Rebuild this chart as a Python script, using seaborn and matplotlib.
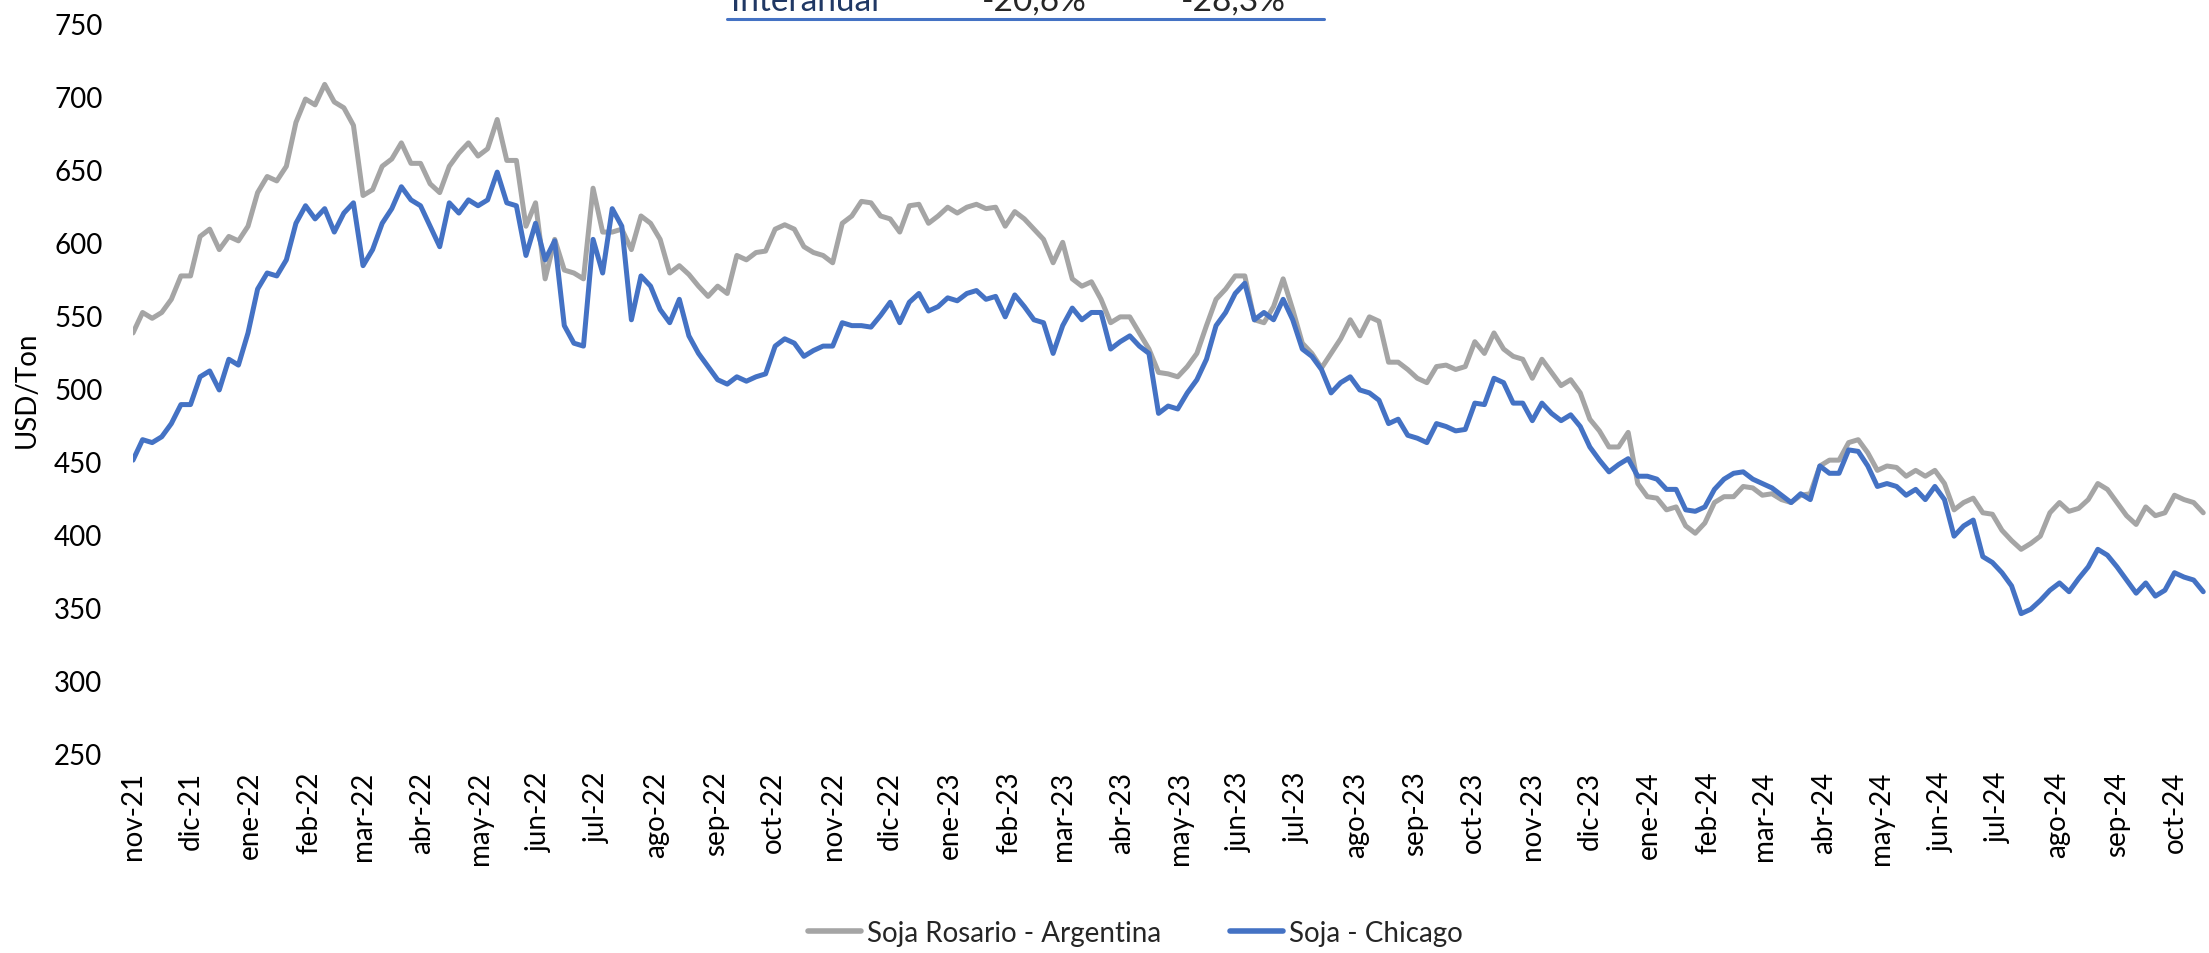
import matplotlib
matplotlib.use("Agg")
import matplotlib.pyplot as plt
import matplotlib.dates as mdates
from matplotlib.ticker import FuncFormatter, MultipleLocator
from matplotlib.lines import Line2D
import seaborn as sns
import pandas as pd

# ---------------- data (~every 5 days) ----------------
start_date = "2021-11-01"
step_days = 5

rosario = [
    538, 552, 548, 552, 561, 577, 577, 604, 609, 595,
    604, 601, 611, 634, 645, 642, 652, 682, 698, 694,
    708, 696, 692, 680, 632, 636, 652, 657, 668, 654,
    654, 640, 634, 652, 661, 668, 659, 664, 684, 656,
    656, 611, 627, 575, 602, 581, 579, 575, 637, 607,
    607, 609, 595, 618, 613, 602, 579, 584, 578, 570,
    563, 570, 565, 591, 588, 593, 594, 609, 612, 609,
    597, 593, 591, 586, 613, 618, 628, 627, 618, 616,
    607, 625, 626, 613, 618, 624, 620, 624, 626, 623,
    624, 611, 621, 616, 609, 602, 586, 600, 575, 570,
    573, 561, 545, 549, 549, 538, 527, 511, 510, 508,
    515, 524, 543, 561, 568, 577, 577, 547, 545, 556,
    575, 554, 531, 524, 514, 524, 534, 547, 536, 549,
    546, 518, 518, 513, 507, 504, 515, 516, 513, 515,
    532, 524, 538, 527, 522, 520, 507, 520, 511, 502,
    506, 497, 479, 471, 460, 460, 470, 435, 426, 425,
    417, 419, 406, 401, 408, 422, 426, 426, 433, 432,
    427, 428, 424, 422, 427, 428, 447, 451, 451, 463,
    465, 456, 444, 447, 446, 440, 444, 440, 444, 435,
    417, 422, 425, 415, 414, 403, 396, 390, 394, 399,
    415, 422, 416, 418, 424, 435, 431, 422, 413, 407,
    419, 413, 415, 427, 424, 422, 415,
]

chicago = [
    451, 465, 463, 467, 476, 489, 489, 508, 512, 499,
    520, 516, 538, 568, 579, 577, 588, 613, 625, 616,
    623, 607, 620, 627, 584, 595, 613, 623, 638, 629,
    625, 611, 597, 627, 620, 629, 625, 629, 648, 627,
    625, 591, 613, 588, 601, 543, 531, 529, 602, 579,
    623, 611, 547, 577, 570, 554, 545, 561, 536, 524,
    515, 506, 503, 508, 505, 508, 510, 529, 534, 531,
    522, 526, 529, 529, 545, 543, 543, 542, 550, 559,
    545, 559, 565, 553, 556, 562, 560, 565, 567, 561,
    563, 549, 564, 556, 547, 545, 524, 543, 555, 547,
    552, 552, 527, 532, 536, 529, 524, 483, 488, 486,
    497, 506, 520, 543, 552, 565, 572, 547, 552, 547,
    561, 547, 527, 522, 513, 497, 504, 508, 499, 497,
    492, 476, 479, 468, 466, 463, 476, 474, 471, 472,
    490, 489, 507, 504, 490, 490, 478, 490, 483, 478,
    482, 474, 460, 451, 443, 448, 452, 440, 440, 438,
    431, 431, 417, 416, 419, 431, 438, 442, 443, 438,
    435, 432, 427, 422, 428, 424, 447, 442, 442, 458,
    457, 447, 433, 435, 433, 427, 431, 424, 433, 424,
    399, 406, 410, 385, 381, 374, 365, 346, 349, 355,
    362, 367, 361, 370, 378, 390, 386, 378, 369, 360,
    367, 358, 362, 374, 371, 369, 361,
]

series_names = ["Soja Rosario - Argentina", "Soja - Chicago"]
series_colors = ["#A5A5A5", "#4472C4"]
month_names = ["ene", "feb", "mar", "abr", "may", "jun",
               "jul", "ago", "sep", "oct", "nov", "dic"]
y_ticks = [250, 300, 350, 400, 450, 500, 550, 600, 650, 700, 750]
table_label = "Interanual"
table_values = ["-20,6%", "-28,3%"]

# ---------------- build long-form table ----------------
dates = pd.date_range(start_date, periods=len(rosario), freq=f"{step_days}D")
df = pd.concat([
    pd.DataFrame({"fecha": dates, "valor": rosario, "serie": series_names[0]}),
    pd.DataFrame({"fecha": dates, "valor": chicago, "serie": series_names[1]}),
], ignore_index=True)

# ---------------- style ----------------
sns.set_theme(style="white")
plt.rcParams["font.family"] = ["Lato", "DejaVu Sans"]

W, H = 2209, 954
fig = plt.figure(figsize=(W / 100, H / 100), dpi=100)
ax = fig.add_axes([133 / W, 1 - 755 / H, (W - 133) / W, (755 - 24) / H])

sns.lineplot(data=df, x="fecha", y="valor", hue="serie",
             palette=dict(zip(series_names, series_colors)),
             hue_order=series_names, linewidth=3.6, ax=ax, legend=False)

ax.set_ylim(250, 750)
ax.set_yticks(y_ticks)
ax.set_xlim(pd.Timestamp("2021-11-01"), pd.Timestamp("2024-10-19"))

ax.xaxis.set_major_locator(mdates.MonthLocator(bymonthday=1))
ax.xaxis.set_major_formatter(FuncFormatter(
    lambda v, p: f"{month_names[mdates.num2date(v).month - 1]}-{mdates.num2date(v).year % 100:02d}"))

ax.tick_params(axis="y", labelsize=20, pad=22, length=0, colors="black")
ax.tick_params(axis="x", labelsize=20, pad=12, length=0, colors="black",
               labelrotation=90)
for lab in ax.get_xticklabels():
    lab.set_ha("center")

for s in ax.spines.values():
    s.set_visible(False)
ax.grid(False)

ax.set_xlabel("")
ax.set_ylabel("USD/Ton", fontsize=20, color="black")
ax.yaxis.set_label_coords(-0.0448, 0.5)

# legend
handles = [Line2D([], [], color=c, lw=4) for c in series_colors]
fig.legend(handles, series_names, loc="center", bbox_to_anchor=(0.514, 0.021),
           ncol=2, frameon=False, fontsize=20, handlelength=1.9,
           handletextpad=0.2, columnspacing=2.5)

# remnant of the table cut at the top of the image
fig.text(731 / W, 1 - 11 / H, table_label, fontsize=24, color="#203864",
         va="baseline", ha="left")
fig.text(982 / W, 1 - 11 / H, table_values[0], fontsize=24, color="#262626",
         va="baseline", ha="left")
fig.text(1181 / W, 1 - 11 / H, table_values[1], fontsize=24, color="#262626",
         va="baseline", ha="left")
fig.add_artist(Line2D([727 / W, 1324 / W], [1 - 20 / H, 1 - 20 / H],
                      color="#4472C4", lw=2.2, transform=fig.transFigure))

fig.savefig("out.png", dpi=100)
